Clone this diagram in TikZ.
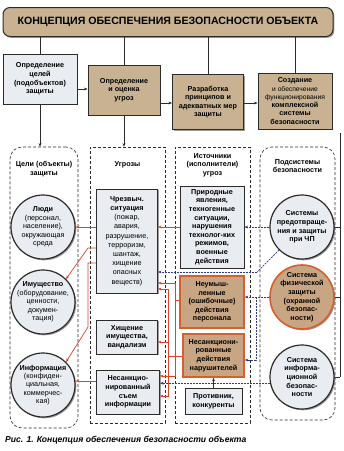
\documentclass[tikz,border=0pt]{standalone}
\usepackage{fontspec}
\setmainfont{Liberation Sans}
\usetikzlibrary{arrows.meta,shadows,calc}
\definecolor{dk}{HTML}{2B2B2B}
\definecolor{lite}{HTML}{E9ECF1}
\definecolor{tanc}{HTML}{C8B292}
\definecolor{tanb}{HTML}{C9A683}
\definecolor{orng}{HTML}{D5602E}
\definecolor{redl}{HTML}{D8432A}
\definecolor{bluel}{HTML}{2D3A8C}
\tikzset{
  shad/.style={drop shadow={shadow xshift=1.3pt,shadow yshift=-1.3pt,fill=black!55,opacity=0.7}},
  bfont/.style={font=\bfseries\fontsize{7.2}{8.6}\selectfont},
  lbox/.style={draw=dk,line width=0.9pt,fill=lite,align=center,inner sep=1pt,bfont,shad},
  tbox/.style={draw=dk,line width=0.9pt,fill=tanc,align=center,inner sep=1pt,bfont,shad},
  obox/.style={draw=orng,line width=1.4pt,fill=tanb,align=center,inner sep=1pt,bfont,shad},
  titlebox/.style={draw=dk,line width=1pt,fill=tanc,rounded corners=7pt,align=center,
     font=\bfseries\fontsize{10.6}{12}\selectfont,shad,minimum width=330pt,minimum height=29pt},
  colbox/.style={draw=dk,dashed,line width=0.6pt,dash pattern=on 3pt off 2pt},
  coltitle/.style={align=center,bfont},
  circ/.style={circle,draw=dk,line width=1.2pt,fill=lite,minimum size=64pt,inner sep=0pt,shad},
  ocirc/.style={circle,draw=orng,line width=1.6pt,fill=tanb,minimum size=64pt,inner sep=0pt,shad},
  ctext/.style={align=center,inner sep=0pt,font=\fontsize{7.2}{8.4}\selectfont},
  bctext/.style={align=center,inner sep=0pt,bfont},
  ln/.style={draw=dk,line width=0.7pt},
  arr/.style={ln,-{Stealth[length=3.6pt,width=2.8pt]}},
  rln/.style={draw=redl,line width=0.7pt},
  rarr/.style={rln,-{Stealth[length=3.6pt,width=2.8pt]}},
  bln/.style={draw=bluel,line width=0.7pt,dash pattern=on 2pt off 1pt},
  barr/.style={bln,-{Stealth[length=3.6pt,width=2.8pt]}},
}
\begin{document}
\begin{tikzpicture}[x=1pt,y=-1pt]
\useasboundingbox[fill=white] (0,0) rectangle (344,451);

% column containers
\node[colbox,rounded corners=12pt,minimum width=68pt,minimum height=281pt] (col1) at (44,287.5) {};
\node[colbox,minimum width=75pt,minimum height=276pt] (col2) at (127.5,285) {};
\node[colbox,minimum width=75pt,minimum height=276pt] (col3) at (212.5,285) {};
\node[colbox,rounded corners=12pt,minimum width=75pt,minimum height=273pt] (col4) at (297.5,283.5) {};

% title and top row
\node[titlebox] (title) at (168,22) {КОНЦЕПЦИЯ ОБЕСПЕЧЕНИЯ БЕЗОПАСНОСТИ ОБЪЕКТА};
\node[lbox,minimum width=74pt,minimum height=50pt] (box1) at (40,79) {Определение\\целей\\(подобъектов)\\защиты};
\node[tbox,minimum width=72pt,minimum height=50pt] (box2) at (124,90) {Определение\\и оценка\\угроз};
\node[tbox,minimum width=71pt,minimum height=55pt] (box3) at (208,102) {Разработка\\принципов и\\адекватных мер\\защиты};
\node[tbox,minimum width=74pt,minimum height=56pt,font=\bfseries\fontsize{7.2}{8.3}\selectfont] (box4) at (295,101) {Создание\\{\mdseries\fontsize{6.7}{8.3}\selectfont и обеспечение}\\{\mdseries\fontsize{6.7}{8.3}\selectfont функционирования}\\комплексной\\системы\\безопасности};

% column titles
\node[coltitle] (t1) at (44,169) {Цели (объекты)\\защиты};
\node[coltitle] (t2) at (127.5,165) {Угрозы};
\node[coltitle] (t3) at (212.5,165) {Источники\\(исполнители)\\угроз};
\node[coltitle] (t4) at (297.5,166) {Подсистемы\\безопасности};

% column 1 circles
\node[circ] (ludi) at (43,227) {};
\node[ctext] (ludit) at (ludi) {\textbf{Люди}\\(персонал,\\население),\\окружающая\\среда};
\node[circ] (imush) at (43,302) {};
\node[ctext] (imusht) at (imush) {\textbf{Имущество}\\(оборудование,\\ценности,\\докумен-\\тация)};
\node[circ] (info) at (43,385) {};
\node[ctext] (infot) at (info) {\textbf{Информация}\\(конфиден-\\циальная,\\коммерчес-\\кая)};

% column 2 boxes
\node[lbox,minimum width=61pt,minimum height=104pt,font=\fontsize{7.2}{9.2}\selectfont] (chs) at (127,241)
  {\textbf{Чрезвыч.}\\\textbf{ситуация}\\(пожар,\\авария,\\разрушение,\\терроризм,\\шантаж,\\хищение\\опасных\\веществ)};
\node[lbox,minimum width=61pt,minimum height=34pt] (hish) at (127,337) {Хищение\\имущества,\\вандализм};
\node[lbox,minimum width=63pt,minimum height=44pt] (sem) at (128,392) {Несанкцио-\\нированный\\съем\\информации};

% column 3 boxes
\node[lbox,minimum width=64pt,minimum height=82pt] (prir) at (212,227) {Природные\\явления,\\техногенные\\ситуации,\\нарушения\\технолог-ких\\режимов,\\военные\\действия};
\node[obox,minimum width=64pt,minimum height=52pt] (neum) at (212,302) {Неумыш-\\ленные\\(ошибочные)\\действия\\персонала};
\node[obox,minimum width=61pt,minimum height=43pt] (nsd) at (213.5,355.5) {Несанкциони-\\рованные\\действия\\нарушителей};
\node[lbox,minimum width=57pt,minimum height=26pt] (prot) at (213.5,401) {Противник,\\конкуренты};

% column 4 circles
\node[circ] (circ1) at (302,227) {};
\node[bctext] (circ1t) at (circ1) {Системы\\предотвраще-\\ния и защиты\\при ЧП};
\node[ocirc] (circ2) at (302,297) {};
\node[bctext] (circ2t) at (circ2) {Система\\физической\\защиты\\(охранной\\безопас-\\ности)};
\node[circ] (circ3) at (302,377) {};
\node[bctext] (circ3t) at (circ3) {Система\\информа-\\ционной\\безопас-\\ности};

% caption
\node[anchor=west,inner sep=0pt,font=\bfseries\itshape\fontsize{8.6}{10}\selectfont] (cap) at (5,440) {Рис. 1. Концепция обеспечения безопасности объекта};

% title connectors
\draw[ln] (title.south -| box1.north) -- (box1.north);
\draw[ln] (title.south -| box2.north) -- (box2.north);
\draw[ln] (title.south -| box3.north) -- (box3.north);
\draw[ln] (title.south -| box4.north) -- (box4.north);
% top row arrows
\draw[arr] (box1.east |- 0,89) -- (box2.west |- 0,89);
\draw[arr] (box2.east |- 0,103) -- (box3.west |- 0,103);
\draw[arr] (box3.east |- 0,103) -- (box4.west |- 0,103);
\draw[arr] (box1.south) -- (box1.south |- col1.north);
\draw[arr] (box2.south) -- (box2.south |- col2.north);

% right collector line
\coordinate (rtop) at (340,133);
\draw[ln] (rtop) -- (rtop |- circ3.east);
\draw[ln] (circ1.east) -- (circ1.east -| rtop);
\draw[ln] (circ2.east) -- (circ2.east -| rtop);
\draw[ln] (circ3.east) -- (circ3.east -| rtop);

% red connectors: threats to targets
\draw[rarr] (prir.west |- 0,227) -- (chs.east |- 0,227);
\draw[rarr] (chs.west |- 0,227) -- (ludi.east);
\draw[rarr] (chs.west |- 0,248) -- (88,248) -- (imush.north east);
\draw[rarr] (chs.west |- 0,263) -- (88,263) -- (88,327) -- (info.north east);
\draw[rarr] (sem.west |- 0,381) -- (info.east |- 0,381);

% red connectors: sources to threats
\coordinate (j1) at (175,300);
\draw[rarr] (neum.west |- j1) -- (j1) -- (j1 |- 0,283) -- (chs.east |- 0,283);
\draw[rarr] (j1) -- (j1 |- 0,376) -- (sem.east |- 0,376);
\coordinate (j2) at (168,356);
\draw[rln] (nsd.west |- j2) -- (j2);
\draw[rarr] (j2) -- (j2 |- 0,289) -- (chs.east |- 0,289);
\draw[rarr] (j2) -- (j2 |- 0,342) -- (hish.east |- 0,342);
\draw[rarr] (j2) -- (j2 |- 0,396) -- (sem.east |- 0,396);

% blue connectors: subsystems
\draw[barr] (circ1.west) -- (prir.east |- circ1.west);
\coordinate (j3) at (257,272);
\draw[bln] (circ1.225) -- (j3);
\draw[barr] (j3) -- (chs.east |- j3);
\coordinate (j4) at (256,297);
\draw[barr] (circ2.west) -- (neum.east |- circ2.west);
\draw[barr] (j4) -- (j4 |- 0,360) -- (nsd.east |- 0,360);
\draw[barr] (circ3.191) -- (sem.east |- circ3.191);

% opponent to violators
\draw[arr] (prot.north) -- (nsd.south);
\end{tikzpicture}
\end{document}
